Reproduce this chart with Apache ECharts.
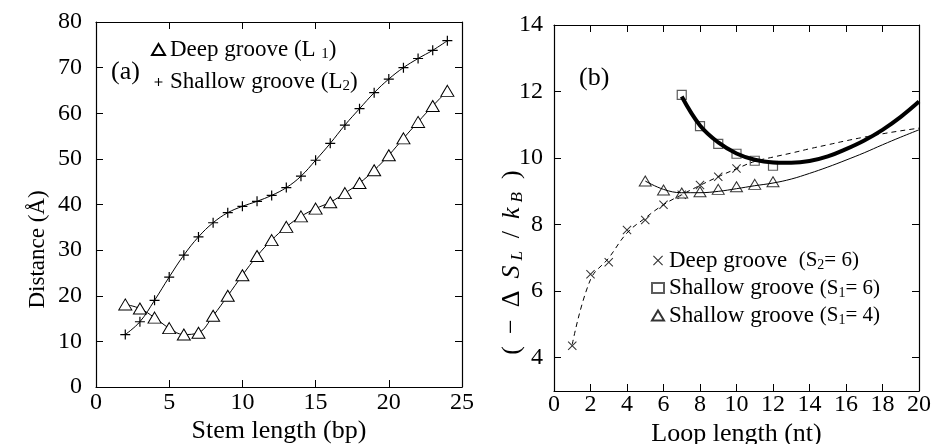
<!DOCTYPE html>
<html><head><meta charset="utf-8">
<script src="https://cdn.jsdelivr.net/npm/echarts@6/dist/echarts.min.js"></script>
<style>html,body{margin:0;padding:0;background:#fff}#c{width:935px;height:444px}</style>
</head><body><div id="c"></div>
<script>
// ---------- Panel (a) data ----------
const stemLength = [2,3,4,5,6,7,8,9,10,11,12,13,14,15,16,17,18,19,20,21,22,23,24];
const deepGrooveL1 = [18.1,17.2,15.2,12.9,11.5,11.9,15.6,20.0,24.5,28.7,32.2,35.1,37.4,39.1,40.5,42.5,44.7,47.5,50.8,54.5,58.1,61.6,64.9];
const shallowGrooveL2 = [11.5,14.3,19.0,24.1,28.9,32.9,36.0,38.2,39.6,40.7,42.0,43.7,46.2,49.7,53.4,57.4,61.0,64.5,67.5,70.0,72.0,73.8,75.9];
const stemTicks = [0,5,10,15,20,25];
const distanceTicks = [0,10,20,30,40,50,60,70,80];

// ---------- Panel (b) data ----------
const loopDeep = [1,2,3,4,5,6,7,8,9,10];
const deepGrooveS2 = [4.36,6.51,6.87,7.84,8.14,8.6,8.9,9.19,9.44,9.69];
const loopShallow6 = [7,8,9,10,11,12];
const shallowGrooveS1_6 = [11.9,10.96,10.43,10.13,9.92,9.77];
const loopShallow4 = [5,6,7,8,9,10,11,12];
const shallowGrooveS1_4 = [9.31,9.04,8.95,8.99,9.06,9.14,9.21,9.29];
// fitted curves
const fitDeepX = [1,2,3,4,5,6,7,8,9,10,11,12,13,14,15,16,17,18,19,20];
const fitDeepY = [4.4,6.35,7.0,7.75,8.2,8.6,8.9,9.18,9.44,9.68,9.9,10.03,10.15,10.28,10.4,10.52,10.63,10.73,10.82,10.9];
const fitS6X = [7,8,9,10,11,12,13,14,15,16,17,18,19,20];
const fitS6Y = [11.85,10.98,10.47,10.14,9.95,9.87,9.86,9.91,10.05,10.27,10.53,10.85,11.24,11.7];
const fitS4X = [5,6,7,8,9,10,11,12,13,14,15,16,17,18,19,20];
const fitS4Y = [9.31,9.06,8.96,8.96,9.0,9.08,9.17,9.25,9.37,9.54,9.73,9.94,10.16,10.4,10.63,10.85];
const loopTicks = [0,2,4,6,8,10,12,14,16,18,20];
const entropyTicks = [4,6,8,10,12,14];

const F = 'Liberation Serif';
const pairs = (xs, ys) => xs.map((x, i) => [x, ys[i]]);

const plusPath = 'path://M4.4,0H5.6V4.4H10V5.6H5.6V10H4.4V5.6H0V4.4H4.4Z';
const plusLegend = 'path://M-3,-2M13,12M4.3,0H5.7V4.3H10V5.7H5.7V10H4.3V5.7H0V4.3H4.3Z';
const crossPath = 'path://M0.8,0L5,4.2L9.2,0L10,0.8L5.8,5L10,9.2L9.2,10L5,5.8L0.8,10L0,9.2L4.2,5L0,0.8Z';

const black = '#000';
const TICK = 24;
function axisBase(extra) {
  return Object.assign({
    type: 'value',
    nameMoveOverlap: false,
    axisLine: { show: true, onZero: false, lineStyle: { color: black, width: 1.2 } },
    axisTick: { show: true, inside: true, length: 7, lineStyle: { color: black, width: 1 } },
    splitLine: { show: false },
    axisLabel: { color: black, fontFamily: F, fontSize: TICK, hideOverlap: false }
  }, extra);
}

const rich = {
  m: { fontFamily: F, fontSize: 23, color: black, lineHeight: 24 },
  s: { fontFamily: F, fontSize: 15, color: black, lineHeight: 10, verticalAlign: 'bottom' },
  p: { fontFamily: F, fontSize: 21, color: black, lineHeight: 24 },
  ps: { fontFamily: F, fontSize: 14, color: black, lineHeight: 10, verticalAlign: 'bottom' }
};
const legendText = {
  'Deep groove (L1)': '{m|Deep groove (L }{s|1}{m|)}',
  'Shallow groove (L2)': '{m|Shallow groove (L}{s|2}{m|)}',
  'Deep groove (S2=6)': '{m|Deep groove  }{p|(S}{ps|2}{p|= 6)}',
  'Shallow groove (S1=6)': '{m|Shallow groove }{p|(S}{ps|1}{p|= 6)}',
  'Shallow groove (S1=4)': '{m|Shallow groove }{p|(S}{ps|1}{p|= 4)}'
};

const option = {
  backgroundColor: '#fff',
  animation: false,
  grid: [
    { left: 96, top: 22, width: 366, height: 365, outerBoundsMode: 'none' },
    { left: 554, top: 25, width: 365, height: 366, outerBoundsMode: 'none' }
  ],
  xAxis: [
    axisBase({ gridIndex: 0, position: 'bottom', min: 0, max: 25, interval: 5,
      axisLabel: { color: black, fontFamily: F, fontSize: TICK, margin: 4 },
      name: 'Stem length (bp)', nameLocation: 'middle', nameGap: 31,
      nameTextStyle: { fontFamily: F, fontSize: 26, color: black } }),
    axisBase({ gridIndex: 0, position: 'top', min: 0, max: 25, interval: 5, axisLabel: { show: false } }),
    axisBase({ gridIndex: 1, position: 'bottom', min: 0, max: 20, interval: 2,
      axisLabel: { color: black, fontFamily: F, fontSize: TICK, margin: 2 },
      name: 'Loop length (nt)', nameLocation: 'middle', nameGap: 30,
      nameTextStyle: { fontFamily: F, fontSize: 26, color: black } }),
    axisBase({ gridIndex: 1, position: 'top', min: 0, max: 20, interval: 2, axisLabel: { show: false } })
  ],
  yAxis: [
    axisBase({ gridIndex: 0, position: 'left', min: 0, max: 80, interval: 10,
      axisLabel: { color: black, fontFamily: F, fontSize: TICK, margin: 14 },
      name: 'Distance (Å)', nameLocation: 'middle', nameGap: 47, nameRotate: 90,
      nameTextStyle: { fontFamily: F, fontSize: 23, color: black, padding: [0, 90, 0, 0] } }),
    axisBase({ gridIndex: 0, position: 'right', min: 0, max: 80, interval: 10, axisLabel: { show: false } }),
    axisBase({ gridIndex: 1, position: 'left', min: 3, max: 14,
      axisTick: { show: true, inside: true, length: 7, customValues: entropyTicks, lineStyle: { color: black } },
      axisLabel: { color: black, fontFamily: F, fontSize: TICK, margin: 11, customValues: entropyTicks },
      name: '{n|(}{n|−}{n|Δ}{i|S}{sb|L}{n|/}{i|k}{sb|B}{n|)}', nameLocation: 'middle', nameGap: 28, nameRotate: 90,
      nameTextStyle: { padding: [0, 109, 0, 0], rich: {
        n: { fontFamily: F, fontSize: 26, color: black, lineHeight: 28, padding: [0, 6, 0, 6] },
        i: { fontFamily: F, fontSize: 26, fontStyle: 'italic', color: black, lineHeight: 28, padding: [0, 4, 0, 6] },
        sb: { fontFamily: F, fontSize: 17, fontStyle: 'italic', color: black, lineHeight: 10, verticalAlign: 'bottom', padding: [0, 7, 0, 1] }
      } } }),
    axisBase({ gridIndex: 1, position: 'right', min: 3, max: 14,
      axisTick: { show: true, inside: true, length: 7, customValues: entropyTicks, lineStyle: { color: black } },
      axisLabel: { show: false } })
  ],
  legend: [
    { orient: 'vertical', left: 146, top: 33, itemWidth: 13, itemHeight: 11, itemGap: 9,
      selectedMode: false,
      data: [{ name: 'Deep groove (L1)', icon: 'triangle' }, { name: 'Shallow groove (L2)', icon: plusLegend }],
      formatter: n => legendText[n], textStyle: { rich } },
    { orient: 'vertical', left: 646, top: 244, itemWidth: 12, itemHeight: 10, itemGap: 4,
      selectedMode: false,
      data: [{ name: 'Deep groove (S2=6)', icon: crossPath }, { name: 'Shallow groove (S1=6)', icon: 'rect' }, { name: 'Shallow groove (S1=4)', icon: 'triangle' }],
      formatter: n => legendText[n], textStyle: { rich } }
  ],
  graphic: [
    { type: 'text', left: 111, top: 59, style: { text: '(a)', fontFamily: F, fontSize: 26, fill: black } },
    { type: 'text', left: 579, top: 65, style: { text: '(b)', fontFamily: F, fontSize: 26, fill: black } }
  ],
  series: [
    { name: 'Deep groove (L1)', type: 'line', xAxisIndex: 0, yAxisIndex: 0, smooth: 0.4,
      data: pairs(stemLength, deepGrooveL1), symbol: 'triangle', symbolSize: [13, 11],
      itemStyle: { color: '#fff', borderColor: black, borderWidth: 1 }, lineStyle: { color: black, width: 1 } },
    { name: 'Shallow groove (L2)', type: 'line', xAxisIndex: 0, yAxisIndex: 0, smooth: 0.4,
      data: pairs(stemLength, shallowGrooveL2), symbol: plusPath, symbolSize: 10,
      itemStyle: { color: black, borderWidth: 0 }, lineStyle: { color: black, width: 1 } },
    { name: 'fitDeep', type: 'line', xAxisIndex: 2, yAxisIndex: 2, smooth: 0.4, symbol: 'none',
      data: pairs(fitDeepX, fitDeepY), lineStyle: { color: black, width: 1, type: [5, 4] } },
    { name: 'fitS6', type: 'line', xAxisIndex: 2, yAxisIndex: 2, smooth: 0.4, symbol: 'none',
      data: pairs(fitS6X, fitS6Y), lineStyle: { color: black, width: 4 } },
    { name: 'fitS4', type: 'line', xAxisIndex: 2, yAxisIndex: 2, smooth: 0.4, symbol: 'none',
      data: pairs(fitS4X, fitS4Y), lineStyle: { color: black, width: 1 } },
    { name: 'Deep groove (S2=6)', type: 'scatter', xAxisIndex: 2, yAxisIndex: 2,
      data: pairs(loopDeep, deepGrooveS2), symbol: crossPath, symbolSize: 9,
      itemStyle: { color: black, borderWidth: 0 } },
    { name: 'Shallow groove (S1=6)', type: 'scatter', xAxisIndex: 2, yAxisIndex: 2,
      data: pairs(loopShallow6, shallowGrooveS1_6), symbol: 'rect', symbolSize: 9,
      itemStyle: { color: '#fff', borderColor: '#333', borderWidth: 1.2 } },
    { name: 'Shallow groove (S1=4)', type: 'scatter', xAxisIndex: 2, yAxisIndex: 2,
      data: pairs(loopShallow4, shallowGrooveS1_4), symbol: 'triangle', symbolSize: [12, 10],
      itemStyle: { color: '#fff', borderColor: black, borderWidth: 1 } }
  ]
};
const chart = echarts.init(document.getElementById('c'), null, { renderer: 'canvas' });
chart.setOption(option);
</script>
</body></html>
